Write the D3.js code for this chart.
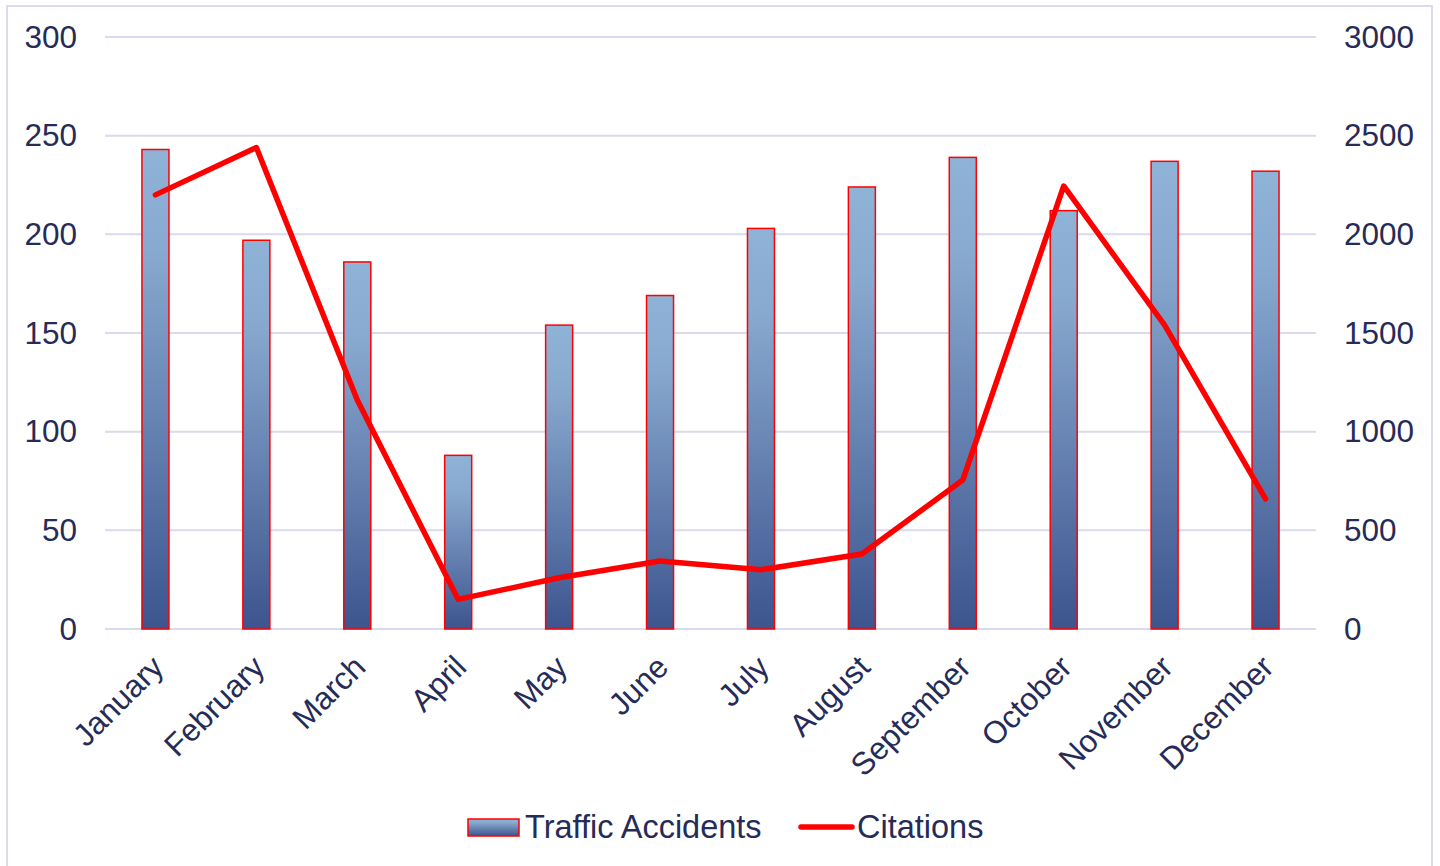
<!DOCTYPE html>
<html><head><meta charset="utf-8">
<script src="https://cdn.jsdelivr.net/npm/d3@7"></script>
<style>html,body{margin:0;padding:0;background:#fff;}svg{display:block;font-family:"Liberation Sans",Arial,sans-serif;}</style>
</head><body>
<svg id="c" width="1440" height="866"></svg>
<script>
const months = ["January","February","March","April","May","June","July","August","September","October","November","December"];
const accidents = [243,197,186,88,154,169,203,224,239,212,237,232];
const citations = [2200,2440,1160,150,260,345,300,380,755,2245,1540,660];
const leftTicks = [0,50,100,150,200,250,300];
const rightTicks = [0,500,1000,1500,2000,2500,3000];

(function(){
const svg = d3.select("#c");
const textColor = "#262B57";
const fs = 31.5;
const pLeft = 105, pRight = 1316, pTop = 37, pBottom = 629;

svg.append("rect").attr("x",7).attr("y",6).attr("width",1425).attr("height",870)
  .attr("fill","#fff").attr("stroke","#D9DCF0").attr("stroke-width",2);

const defs = svg.append("defs");
const g = defs.append("linearGradient").attr("id","barGrad").attr("x1",0).attr("y1",0).attr("x2",0).attr("y2",1);
g.append("stop").attr("offset","0%").attr("stop-color","#8FB2D7");
g.append("stop").attr("offset","20%").attr("stop-color","#89AAD0");
g.append("stop").attr("offset","100%").attr("stop-color","#3D548E");

const x = d3.scaleBand().domain(months).range([pLeft,pRight]).paddingInner(0).paddingOuter(0);
const yL = d3.scaleLinear().domain([0,300]).range([pBottom,pTop]);
const yR = d3.scaleLinear().domain([0,3000]).range([pBottom,pTop]);

svg.append("g").selectAll("line").data(leftTicks).join("line")
  .attr("x1",pLeft).attr("x2",pRight).attr("y1",d=>yL(d)).attr("y2",d=>yL(d))
  .attr("stroke","#D9DAEE").attr("stroke-width",2);

const axL = svg.append("g").attr("transform",`translate(${pLeft},0)`)
  .call(d3.axisLeft(yL).tickValues(leftTicks).tickFormat(d3.format("d")).tickSize(0).tickPadding(28));
axL.select(".domain").remove();
axL.selectAll("text").attr("font-size",fs).attr("fill",textColor).attr("font-family","Liberation Sans, Arial, sans-serif");

const axR = svg.append("g").attr("transform",`translate(${pRight},0)`)
  .call(d3.axisRight(yR).tickValues(rightTicks).tickFormat(d3.format("d")).tickSize(0).tickPadding(28));
axR.select(".domain").remove();
axR.selectAll("text").attr("font-size",fs).attr("fill",textColor).attr("font-family","Liberation Sans, Arial, sans-serif");

const bw = 27;
svg.append("g").selectAll("rect").data(accidents).join("rect")
  .attr("x",(d,i)=>x(months[i])+x.bandwidth()/2-bw/2)
  .attr("y",d=>yL(d))
  .attr("width",bw)
  .attr("height",d=>pBottom-yL(d))
  .attr("fill","url(#barGrad)")
  .attr("stroke","#FF0000").attr("stroke-width",1.5);

const line = d3.line().x((d,i)=>x(months[i])+x.bandwidth()/2).y(d=>yR(d));
svg.append("path").datum(citations).attr("d",line)
  .attr("fill","none").attr("stroke","#FF0000").attr("stroke-width",5.5)
  .attr("stroke-linejoin","round").attr("stroke-linecap","round");

const axB = svg.append("g").attr("transform",`translate(0,${pBottom})`)
  .call(d3.axisBottom(x).tickSize(0).tickPadding(0));
axB.select(".domain").remove();
axB.selectAll("text").attr("font-size",fs).attr("fill",textColor)
  .attr("font-family","Liberation Sans, Arial, sans-serif")
  .attr("text-anchor","end")
  .attr("dy",0)
  .attr("transform","translate(10,40) rotate(-45)");

const lg = svg.append("g");
lg.append("rect").attr("x",468).attr("y",819).attr("width",51).attr("height",17)
  .attr("fill","url(#barGrad)").attr("stroke","#FF0000").attr("stroke-width",1.5);
lg.append("text").attr("x",525).attr("y",838).attr("font-size",32.5).attr("fill",textColor).text("Traffic Accidents");
lg.append("line").attr("x1",801).attr("x2",852).attr("y1",827).attr("y2",827)
  .attr("stroke","#FF0000").attr("stroke-width",5.5).attr("stroke-linecap","round");
lg.append("text").attr("x",857).attr("y",838).attr("font-size",32.5).attr("fill",textColor).text("Citations");
})();
</script>
</body></html>
